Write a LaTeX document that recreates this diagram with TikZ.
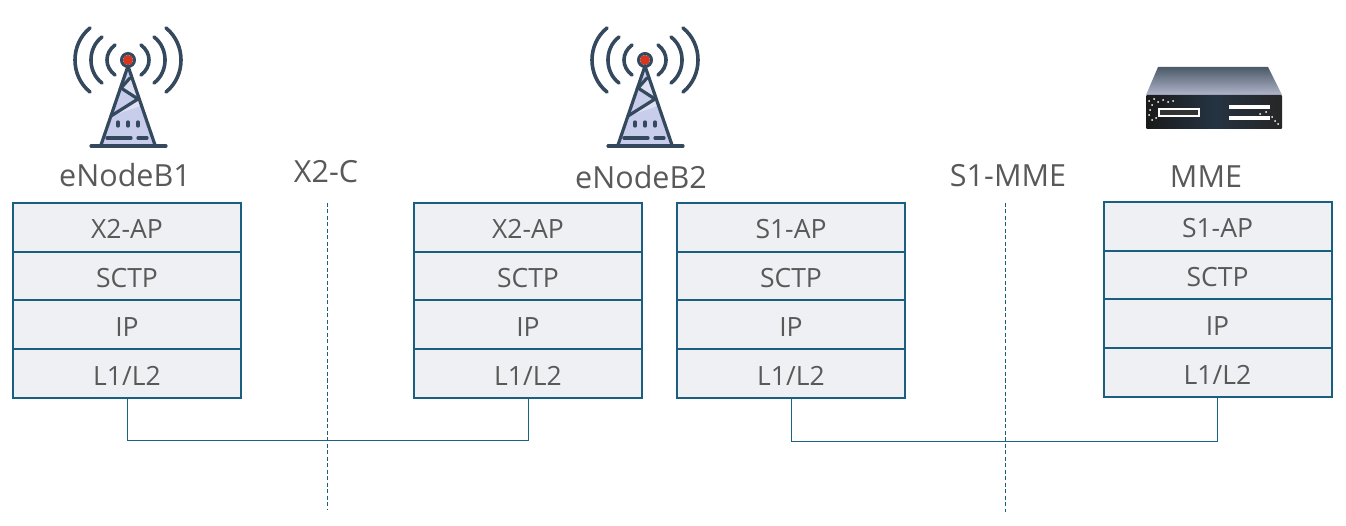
\documentclass[tikz,border=0pt]{standalone}
\usepackage{fontspec}
\setmainfont{Open Sans}
\definecolor{stackline}{HTML}{1A5F7F}
\definecolor{layerfill}{HTML}{EEF0F3}
\definecolor{txt}{HTML}{595959}
\definecolor{iconline}{HTML}{34495E}
\definecolor{iconfill}{HTML}{C7CDEB}
\definecolor{iconlight}{HTML}{DDE1F3}
\definecolor{iconred}{HTML}{D9351F}
\tikzset{
  layer/.style={draw=stackline,line width=2pt,outer sep=0pt,fill=layerfill,text=txt,minimum width=228pt,minimum height=48.75pt,inner sep=0pt,font=\fontsize{26.5}{30}\selectfont,anchor=north,text height=23pt,text depth=0pt},
  title/.style={text=txt,inner sep=0pt,font=\fontsize{30.5}{34}\selectfont},
  link/.style={draw=stackline!85!teal,line width=1pt},
  divider/.style={draw=stackline,line width=1pt,dash pattern=on 4pt off 2.5pt},
  wave/.style={draw=iconline,line width=3.6pt,line cap=round},
  truss/.style={draw=iconline,line width=3.2pt,line cap=round}
}
\newcommand{\towericon}[2]{%
  \begin{scope}[shift={(#1,#2)}]
    \fill[iconfill] (0,8) -- (-26,85) -- (26,85) -- cycle;
    \fill[iconlight] (-17,56) -- (10,39) -- (-7,28) -- (2,18) -- (4,18) -- (13,46) -- cycle;
    \foreach \s in {-1,1} {
      \draw[wave] (\s*13,-15) .. controls (\s*23.7,-7) and (\s*23.7,7) .. (\s*13,15);
      \draw[wave] (\s*26,-23) .. controls (\s*40.7,-12) and (\s*40.7,12) .. (\s*26,23);
      \draw[wave] (\s*38,-32) .. controls (\s*58,-16) and (\s*58,16) .. (\s*38,32);
    }
    \draw[truss] (-27,85) -- (0,6) -- (27,85);
    \draw[truss] (2,18) -- (-7,28) -- (10,39) -- (-17,56);
    \draw[truss] (-37,86) -- (38,86);
    \foreach \x in {-10,0,10} \draw[truss] (\x,62) -- (\x,66);
    \draw[truss] (-21,78) -- (3,78);
    \draw[truss] (10,78) -- (19,78);
    \fill[iconred] (0,0) circle (5);
    \draw[iconline,line width=3pt] (0,0) circle (6.5);
  \end{scope}}
\begin{document}
\begin{tikzpicture}[x=1pt,y=-1pt]
\useasboundingbox (0,0) rectangle (1346,526);
% tower icons
\towericon{128}{60}
\towericon{645}{60}
% server icon
\shade[top color=iconline!70!gray,bottom color=iconfill!70!gray] (1158,67) -- (1268,67) -- (1282,95) -- (1146,95) -- cycle;
\shade[left color=black!90,right color=black!85,middle color=iconline!70!black,rounded corners=1pt] (1146,95) rectangle (1282,129);
\draw[white,line width=1.5pt,fill=black!80] (1159,109) rectangle (1199,116);
\fill[white] (1229,105) rectangle (1270,109);
\fill[white] (1229,116) rectangle (1270,120);
\foreach \a/\b in {1149/101,1152/105,1150/110,1154/99,1158/102,1163/100,1168/102,1173/101,1149/115,1152/120,1156/118,1260/114,1272/117,1275/121,1278/124,1266/112}
  \fill[white] (\a,\b) circle (1);
% titles
\node[title] (t1) at (125,175) {eNodeB1};
\node[title] (t2) at (326,172) {X2-C};
\node[title] (t3) at (641,177) {eNodeB2};
\node[title] (t4) at (1008,176) {S1-MME};
\node[title] (t5) at (1206,177) {MME};
% dividers
\coordinate (d1a) at (327,203);
\coordinate (d1b) at (327,510);
\coordinate (d2a) at (1005,203);
\coordinate (d2b) at (1005,512);
\draw[divider] (d1a) -- (d1b);
\draw[divider] (d2a) -- (d2b);
% stacks
\foreach \n/\x/\y/\top in {a/127/203/X2-AP,b/528/203/X2-AP,c/791/203/S1-AP,d/1217.5/202/S1-AP}{
  \node[layer] (\n1) at (\x,\y) {\top};
  \node[layer] (\n2) at (\x,\y+48.75) {SCTP};
  \node[layer] (\n3) at (\x,\y+97.5) {IP};
  \node[layer] (\n4) at (\x,\y+146.25) {L1/L2};
}
% links
\draw[link] (a4.south) -- ++(0,42) -| (b4.south);
\draw[link] (c4.south) -- ++(0,43) -| (d4.south);
\end{tikzpicture}
\end{document}
